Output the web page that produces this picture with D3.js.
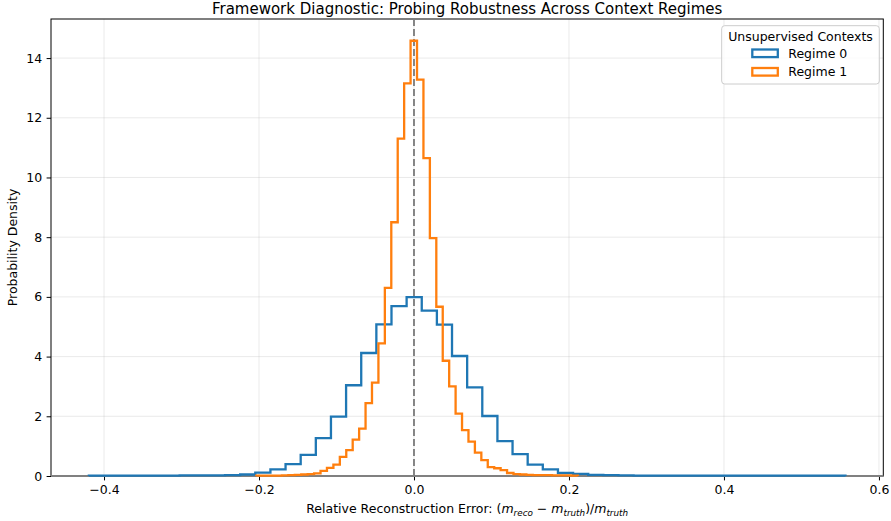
<!DOCTYPE html>
<html>
<head>
<meta charset="utf-8">
<script src="https://cdn.jsdelivr.net/npm/d3@7"></script>
<style>
  html, body { margin: 0; padding: 0; background: #fff; }
  svg { display: block; font-family: "DejaVu Sans", sans-serif; }
</style>
</head>
<body>
<svg id="chart" width="891" height="521"></svg>
<script>
// ---- data ----
const seriesNames = ["Regime 0", "Regime 1"];
const seriesColors = ["#1f77b4", "#ff7f0e"];
const legendTitle = "Unsupervised Contexts";
const titleText = "Framework Diagnostic: Probing Robustness Across Context Regimes";
const yLabelText = "Probability Density";

// bin range (min, max of each sample) — 50 equal bins each
const regime0Range = [-0.4196, 0.5568];
const regime1Range = [-0.2036, 0.2114];

const regime0Density = [
  0.01, 0.01, 0.01, 0.01, 0.01, 0.01, 0.02, 0.02, 0.02, 0.03,
  0.05, 0.11, 0.22, 0.40, 0.71, 1.27, 1.99, 3.04, 4.12, 5.08,
  5.69, 5.99, 5.54, 5.07, 4.02, 2.97, 2.01, 1.17, 0.73, 0.38,
  0.22, 0.10, 0.07, 0.04, 0.03, 0.02, 0.01, 0.01, 0.01, 0.01,
  0.01, 0.01, 0.01, 0.01, 0.01, 0.01, 0.01, 0.01, 0.01, 0.01
];
const regime1Density = [
  0.01, 0.01, 0.01, 0.01, 0.02, 0.03, 0.04, 0.05, 0.06, 0.09,
  0.17, 0.27, 0.38, 0.64, 0.87, 1.22, 1.59, 2.44, 3.13, 4.44,
  6.30, 8.50, 11.30, 13.15, 14.58, 13.28, 10.65, 7.97, 5.67, 3.86,
  3.00, 2.09, 1.54, 1.15, 0.78, 0.53, 0.30, 0.26, 0.20, 0.10,
  0.06, 0.05, 0.04, 0.03, 0.03, 0.03, 0.02, 0.02, 0.02, 0.01
];

const xTicks = [-0.4, -0.2, 0.0, 0.2, 0.4, 0.6];
const yTicks = [0, 2, 4, 6, 8, 10, 12, 14];

// ---- layout ----
const W = 891, H = 521;
const plot = { left: 51, right: 883.3, top: 19, bottom: 476 };

const svg = d3.select("#chart");

function makeBins(range, dens) {
  const n = dens.length;
  const w = (range[1] - range[0]) / n;
  return dens.map((d, i) => ({ x0: range[0] + i * w, x1: range[0] + (i + 1) * w, v: d }));
}
const series = [
  { name: seriesNames[0], color: seriesColors[0], bins: makeBins(regime0Range, regime0Density) },
  { name: seriesNames[1], color: seriesColors[1], bins: makeBins(regime1Range, regime1Density) }
];

const xMin = d3.min([regime0Range[0], regime1Range[0]]);
const xMax = d3.max([regime0Range[1], regime1Range[1]]);
const xPad = (xMax - xMin) * 0.05;
const x = d3.scaleLinear().domain([xMin - xPad, xMax + xPad]).range([plot.left, plot.right]);
const yMax = d3.max(series.flatMap(s => s.bins.map(b => b.v))) * 1.05;
const y = d3.scaleLinear().domain([0, yMax]).range([plot.bottom, plot.top]);

// grid
const grid = svg.append("g");
grid.selectAll(".gx").data(xTicks).enter().append("line")
  .attr("x1", d => x(d)).attr("x2", d => x(d))
  .attr("y1", plot.top).attr("y2", plot.bottom)
  .attr("stroke", "#b0b0b0").attr("stroke-opacity", 0.3).attr("stroke-width", 0.9);
grid.selectAll(".gy").data(yTicks).enter().append("line")
  .attr("x1", plot.left).attr("x2", plot.right)
  .attr("y1", d => y(d)).attr("y2", d => y(d))
  .attr("stroke", "#b0b0b0").attr("stroke-opacity", 0.3).attr("stroke-width", 0.9);

// axes
const fmtX = d => d3.format(".1f")(d).replace("-", "\u2212");
const xAxis = d3.axisBottom(x).tickValues(xTicks).tickFormat(fmtX).tickSize(4.4).tickPadding(4.4);
const yAxis = d3.axisLeft(y).tickValues(yTicks).tickFormat(d3.format("d")).tickSize(4.4).tickPadding(4.4);

const gx = svg.append("g").attr("transform", `translate(0,${plot.bottom})`).call(xAxis);
const gy = svg.append("g").attr("transform", `translate(${plot.left},0)`).call(yAxis);
[gx, gy].forEach(g => {
  g.select(".domain").remove();
  g.selectAll(".tick line").attr("stroke", "#000").attr("stroke-width", 1);
  g.selectAll(".tick text").attr("fill", "#000").attr("font-size", "12.5px")
    .attr("font-family", "DejaVu Sans, sans-serif");
});

// frame (spines)
svg.append("rect")
  .attr("x", plot.left).attr("y", plot.top)
  .attr("width", plot.right - plot.left).attr("height", plot.bottom - plot.top)
  .attr("fill", "none").attr("stroke", "#000").attr("stroke-width", 1);

// zero line
svg.append("line")
  .attr("x1", plot.left).attr("x2", plot.right)
  .attr("y1", y(0)).attr("y2", y(0))
  .attr("stroke", "#808080").attr("stroke-width", 1.8);

// reference dashed line at 0
svg.append("line")
  .attr("x1", x(0)).attr("x2", x(0))
  .attr("y1", plot.top).attr("y2", plot.bottom)
  .attr("stroke", "#808080").attr("stroke-width", 1.9)
  .attr("stroke-dasharray", "7,3");

// step histograms
series.forEach(s => {
  const pts = [[s.bins[0].x0, 0]];
  s.bins.forEach(b => { pts.push([b.x0, b.v]); pts.push([b.x1, b.v]); });
  pts.push([s.bins[s.bins.length - 1].x1, 0]);
  const line = d3.line().x(d => x(d[0])).y(d => y(d[1]));
  svg.append("path")
    .attr("d", line(pts))
    .attr("fill", "none")
    .attr("stroke", s.color)
    .attr("stroke-width", 2.3)
    .attr("stroke-linejoin", "miter");
});

// title
svg.append("text")
  .attr("x", (plot.left + plot.right) / 2).attr("y", 13.5)
  .attr("text-anchor", "middle").attr("font-size", "15px").attr("fill", "#000")
  .text(titleText);

// y label
svg.append("text")
  .attr("transform", `translate(17,${(plot.top + plot.bottom) / 2}) rotate(-90)`)
  .attr("text-anchor", "middle").attr("font-size", "12.5px").attr("fill", "#000")
  .text(yLabelText);

// x label with math
const xl = svg.append("text")
  .attr("x", (plot.left + plot.right) / 2).attr("y", 513)
  .attr("text-anchor", "middle").attr("font-size", "12.5px").attr("fill", "#000");
xl.append("tspan").text("Relative Reconstruction Error: (");
xl.append("tspan").attr("font-style", "italic").text("m");
xl.append("tspan").attr("font-style", "italic").attr("font-size", "8.8px").attr("dy", 2.5).text("reco");
xl.append("tspan").attr("dy", -2.5).text(" \u2212 ");
xl.append("tspan").attr("font-style", "italic").text("m");
xl.append("tspan").attr("font-style", "italic").attr("font-size", "8.8px").attr("dy", 2.5).text("truth");
xl.append("tspan").attr("dy", -2.5).text(")/");
xl.append("tspan").attr("font-style", "italic").text("m");
xl.append("tspan").attr("font-style", "italic").attr("font-size", "8.8px").attr("dy", 2.5).text("truth");

// legend
const lg = svg.append("g");
lg.append("rect")
  .attr("x", 721.7).attr("y", 25.7).attr("width", 157.6).attr("height", 58.3)
  .attr("rx", 3).attr("ry", 3)
  .attr("fill", "#fff").attr("fill-opacity", 0.8)
  .attr("stroke", "#cccccc").attr("stroke-width", 1);
lg.append("text")
  .attr("x", 800.5).attr("y", 40.5)
  .attr("text-anchor", "middle").attr("font-size", "12.5px").attr("fill", "#000")
  .text(legendTitle);
series.forEach((s, i) => {
  const cy = 53.3 + i * 18.5;
  lg.append("rect")
    .attr("x", 752.3).attr("y", cy - 3.8).attr("width", 25.5).attr("height", 7.6)
    .attr("fill", "none").attr("stroke", s.color).attr("stroke-width", 2.3);
  lg.append("text")
    .attr("x", 788.3).attr("y", cy + 4.4)
    .attr("font-size", "12.5px").attr("fill", "#000")
    .text(s.name);
});
</script>
</body>
</html>
